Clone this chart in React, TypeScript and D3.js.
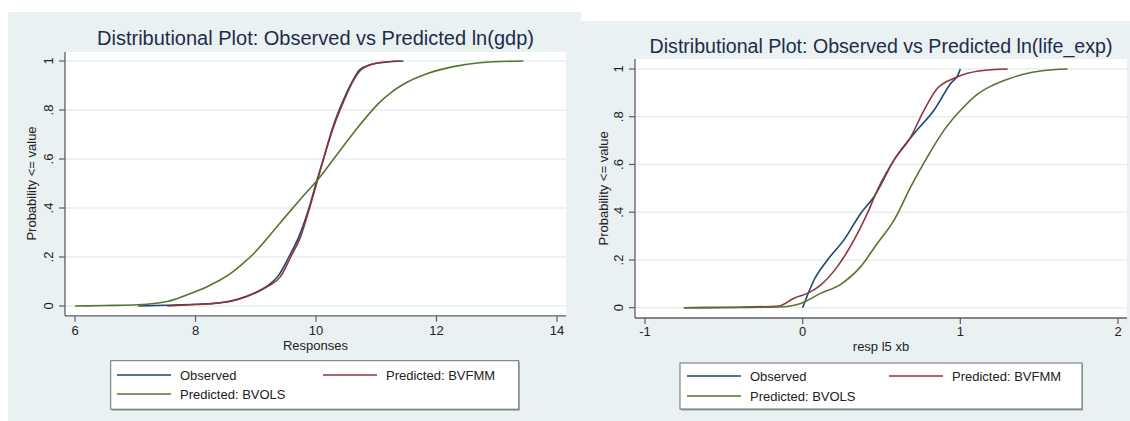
import * as d3 from "d3";

// ---- data (value, cumulative probability) ----
const gdpObserved: [number, number][] = [
  [7.05, 0], [7.5, 0.003], [8.0, 0.007], [8.4, 0.013], [8.7, 0.027], [9.0, 0.055],
  [9.18, 0.08], [9.38, 0.125], [9.55, 0.2], [9.72, 0.285], [9.89, 0.405], [10.0, 0.5],
  [10.12, 0.598], [10.28, 0.73], [10.44, 0.832], [10.61, 0.92], [10.72, 0.963],
  [10.9, 0.985], [11.15, 0.995], [11.45, 1.0],
];
const gdpBvfmm: [number, number][] = [
  [7.53, 0], [8.0, 0.006], [8.4, 0.012], [8.74, 0.03], [9.0, 0.054], [9.2, 0.08],
  [9.41, 0.12], [9.58, 0.2], [9.74, 0.28], [9.9, 0.405], [10.01, 0.5], [10.12, 0.596],
  [10.29, 0.73], [10.45, 0.83], [10.62, 0.92], [10.74, 0.962], [10.95, 0.988],
  [11.15, 0.996], [11.38, 1.0],
];
const gdpBvols: [number, number][] = [
  [6.0, 0], [6.5, 0.002], [7.05, 0.005], [7.53, 0.018], [7.99, 0.058], [8.2, 0.08],
  [8.41, 0.106], [8.6, 0.136], [8.78, 0.172], [8.93, 0.205], [9.07, 0.242], [9.4, 0.338],
  [9.73, 0.433], [10.07, 0.528], [10.4, 0.635], [10.73, 0.74], [11.06, 0.832],
  [11.25, 0.872], [11.45, 0.905], [11.84, 0.948], [12.28, 0.977], [12.72, 0.993],
  [13.44, 1.0],
];

const lifeObserved: [number, number][] = [
  [0, 0], [0.072, 0.116], [0.157, 0.2], [0.262, 0.284], [0.368, 0.395], [0.453, 0.465],
  [0.58, 0.619], [0.707, 0.73], [0.834, 0.828], [0.94, 0.94], [0.985, 0.975], [1.0, 1.0],
];
const lifeBvfmm: [number, number][] = [
  [-0.754, 0], [-0.4, 0.002], [-0.151, 0.007], [-0.055, 0.04], [0.03, 0.06],
  [0.114, 0.095], [0.22, 0.172], [0.326, 0.284], [0.41, 0.395], [0.474, 0.493],
  [0.58, 0.619], [0.686, 0.716], [0.77, 0.828], [0.855, 0.919], [0.96, 0.961],
  [1.045, 0.982], [1.214, 0.998], [1.3, 1.0],
];
const lifeBvols: [number, number][] = [
  [-0.754, 0], [-0.4, 0.001], [-0.151, 0.003], [-0.013, 0.018], [0.114, 0.06],
  [0.241, 0.098], [0.368, 0.172], [0.474, 0.27], [0.58, 0.367], [0.686, 0.507],
  [0.792, 0.633], [0.897, 0.744], [1.003, 0.828], [1.109, 0.895], [1.2, 0.93],
  [1.3, 0.957], [1.4, 0.978], [1.52, 0.993], [1.68, 1.0],
];

const probTicks = [0, 0.2, 0.4, 0.6, 0.8, 1];
const probTickLabels = ["0", ".2", ".4", ".6", ".8", "1"];
const gdpTicks = [6, 8, 10, 12, 14];
const lifeTicks = [-1, 0, 1, 2];

const seriesNames = ["Observed", "Predicted: BVFMM", "Predicted: BVOLS"];
const seriesColors = ["#1a476f", "#90353b", "#55752f"];

const FONT = "'Liberation Sans', Arial, Helvetica, sans-serif";

type Layout = {
  bg: [number, number, number, number];
  plot: [number, number, number, number]; // x0, x1, y0, y1
  xRange: [number, number];
  yRange: [number, number];
  titleY: number;
  titleSize: number;
  xTickY: number;
  xTitleY: number;
  yTickX: number;
  yTitleX: number;
  legend: [number, number, number, number];
  legendRows: [number, number];
  legendCols: [number, number];
};

type PanelProps = {
  title: string;
  xTitle: string;
  xDomain: [number, number];
  xTicks: number[];
  series: [number, number][][];
  layout: Layout;
};

const Panel = ({ title, xTitle, xDomain, xTicks, series, layout }: PanelProps) => {
  const L = layout;
  const [px0, px1, py0, py1] = L.plot;
  const x = d3.scaleLinear().domain(xDomain).range(L.xRange);
  const y = d3.scaleLinear().domain([0, 1]).range(L.yRange);
  const line = d3
    .line<[number, number]>()
    .x((d) => x(d[0]))
    .y((d) => y(d[1]))
    .curve(d3.curveMonotoneX);
  const cx = (px0 + px1) / 2;
  const cy = (L.yRange[0] + L.yRange[1]) / 2;
  const [lx, ly, lw, lh] = L.legend;

  // legend slots: row1 col1, row1 col2, row2 col1
  const slots = [
    [L.legendCols[0], L.legendRows[0]],
    [L.legendCols[1], L.legendRows[0]],
    [L.legendCols[0], L.legendRows[1]],
  ];

  return (
    <g fontFamily={FONT}>
      <rect x={L.bg[0]} y={L.bg[1]} width={L.bg[2]} height={L.bg[3]} fill="#eaf1f3" />
      <text x={cx} y={L.titleY} textAnchor="middle" fontSize={L.titleSize} fill="#1e2c4a">
        {title}
      </text>
      <rect x={px0} y={py0} width={px1 - px0} height={py1 - py0} fill="#ffffff" />
      {probTicks.map((t) => (
        <line key={"g" + t} x1={px0} x2={px1} y1={y(t)} y2={y(t)} stroke="#e7ecef" strokeWidth={1.5} />
      ))}
      {series.map((s, i) => (
        <path key={i} d={line(s) || ""} fill="none" stroke={seriesColors[i]} strokeWidth={1.6} />
      ))}
      {/* axes */}
      <line x1={px0} x2={px0} y1={py0} y2={py1} stroke="#5a5f63" strokeWidth={1.3} />
      <line x1={px0} x2={px1} y1={py1} y2={py1} stroke="#5a5f63" strokeWidth={1.3} />
      {probTicks.map((t, i) => (
        <g key={"y" + t}>
          <line x1={px0 - 6} x2={px0} y1={y(t)} y2={y(t)} stroke="#5a5f63" strokeWidth={1.2} />
          <text
            transform={`translate(${L.yTickX},${y(t)}) rotate(-90)`}
            textAnchor="middle"
            fontSize={13}
            fill="#222"
          >
            {probTickLabels[i]}
          </text>
        </g>
      ))}
      {xTicks.map((t) => (
        <g key={"x" + t}>
          <line x1={x(t)} x2={x(t)} y1={py1} y2={py1 + 6} stroke="#5a5f63" strokeWidth={1.2} />
          <text x={x(t)} y={L.xTickY} textAnchor="middle" fontSize={13} fill="#222">
            {t}
          </text>
        </g>
      ))}
      <text
        transform={`translate(${L.yTitleX},${cy}) rotate(-90)`}
        textAnchor="middle"
        fontSize={13}
        fill="#222"
      >
        Probability &lt;= value
      </text>
      <text x={cx} y={L.xTitleY} textAnchor="middle" fontSize={13} fill="#222">
        {xTitle}
      </text>
      {/* legend */}
      <rect x={lx + 1} y={ly + 1.5} width={lw} height={lh} fill="#9aa0a4" />
      <rect x={lx} y={ly} width={lw} height={lh} fill="#ffffff" stroke="#6b7073" strokeWidth={1} />
      {seriesNames.map((name, i) => {
        const [sx, sy] = slots[i];
        return (
          <g key={name}>
            <line x1={sx} x2={sx + 54} y1={sy} y2={sy} stroke={seriesColors[i]} strokeWidth={1.6} />
            <text x={sx + 63} y={sy + 4.5} fontSize={13} fill="#222">
              {name}
            </text>
          </g>
        );
      })}
    </g>
  );
};

const leftLayout: Layout = {
  bg: [8, 12, 573, 409],
  plot: [65, 566, 52, 315.8],
  xRange: [75, 557],
  yRange: [306, 61],
  titleY: 45,
  titleSize: 20,
  xTickY: 335,
  xTitleY: 350,
  yTickX: 53,
  yTitleX: 35.5,
  legend: [110.7, 360.7, 408, 48.5],
  legendRows: [375, 394],
  legendCols: [117, 323],
};

const rightLayout: Layout = {
  bg: [581, 21, 549, 400],
  plot: [635, 1127, 59, 318],
  xRange: [645, 1118],
  yRange: [307.7, 69],
  titleY: 53,
  titleSize: 19.6,
  xTickY: 336,
  xTitleY: 351,
  yTickX: 623,
  yTitleX: 608,
  legend: [680, 363, 402, 46],
  legendRows: [376, 396],
  legendCols: [687, 889],
};

export default function App() {
  return (
    <svg
      width={1130}
      height={421}
      style={{ position: "absolute", left: 0, top: 0, background: "#ffffff" }}
    >
      <Panel
        title="Distributional Plot: Observed vs Predicted ln(gdp)"
        xTitle="Responses"
        xDomain={[6, 14]}
        xTicks={gdpTicks}
        series={[gdpObserved, gdpBvfmm, gdpBvols]}
        layout={leftLayout}
      />
      <Panel
        title="Distributional Plot: Observed vs Predicted ln(life_exp)"
        xTitle="resp l5 xb"
        xDomain={[-1, 2]}
        xTicks={lifeTicks}
        series={[lifeObserved, lifeBvfmm, lifeBvols]}
        layout={rightLayout}
      />
    </svg>
  );
}
